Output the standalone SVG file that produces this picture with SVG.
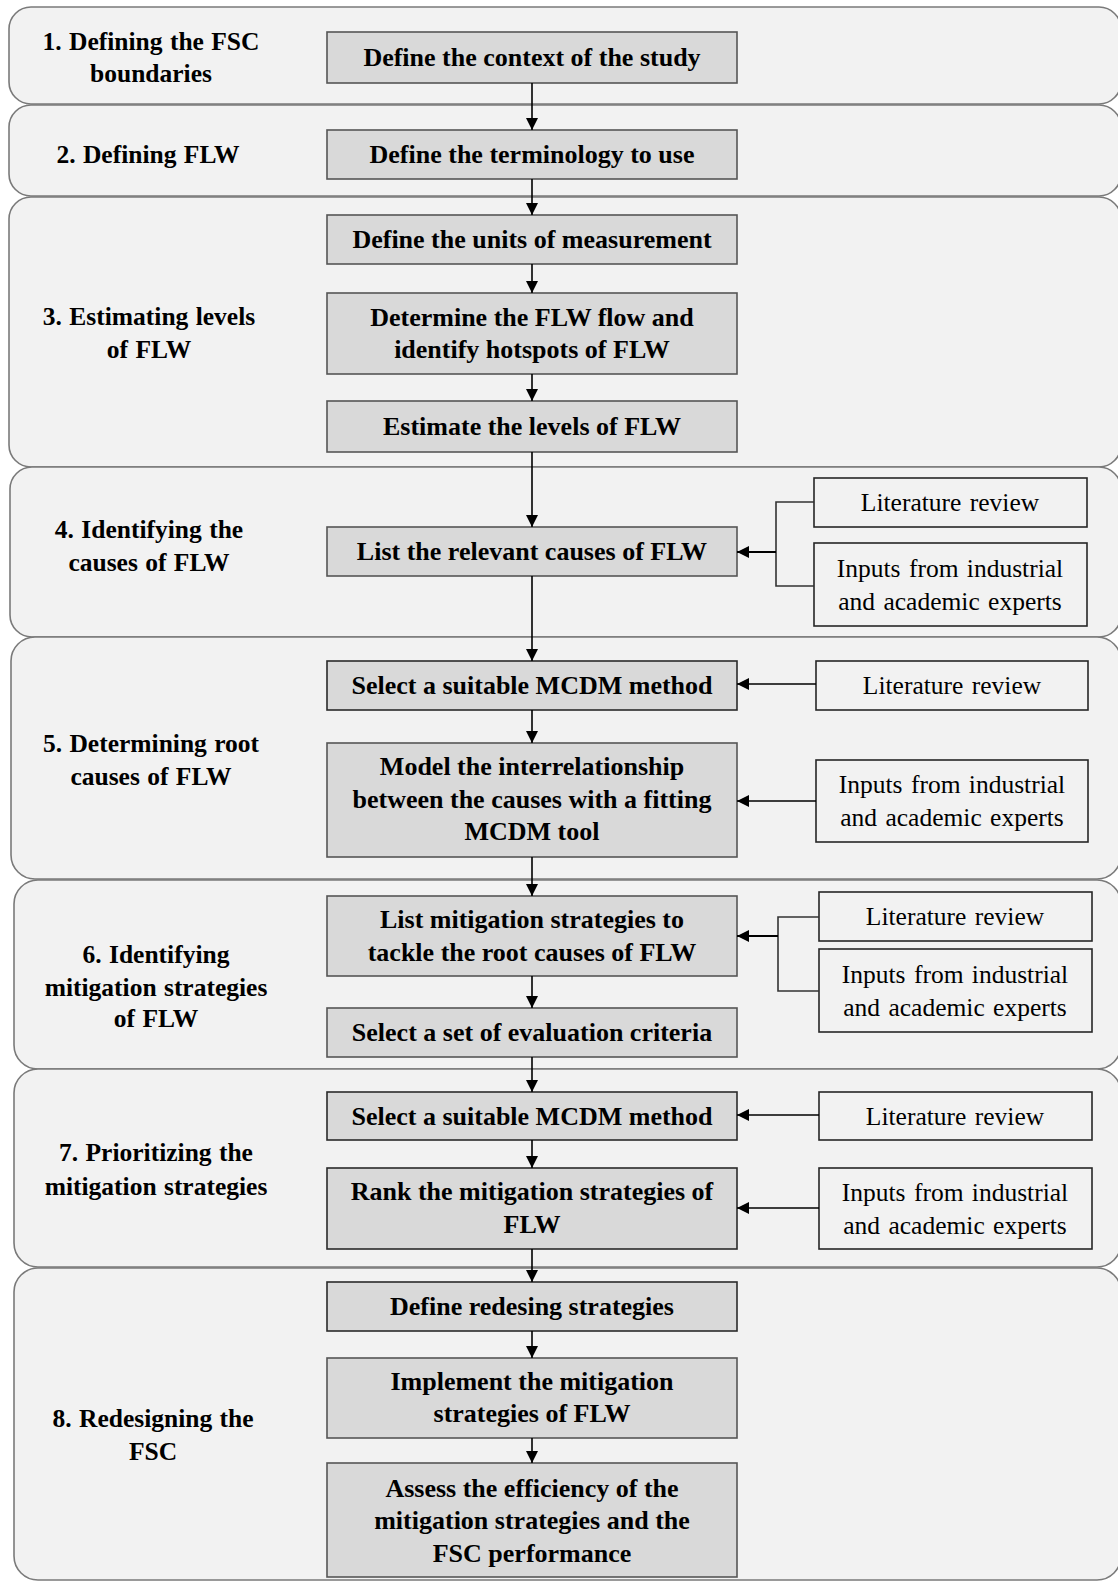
<svg xmlns="http://www.w3.org/2000/svg" width="1118" height="1582" viewBox="0 0 1118 1582">
  <defs>
    <style>
      .phase { fill: #f2f2f2; stroke: #7a7a7a; stroke-width: 1.6; }
      .step { fill: #d9d9d9; stroke: #555555; stroke-width: 1.6; }
      .src { fill: #f2f2f2; stroke: #262626; stroke-width: 1.6; }
      .plabel { font-family: "Liberation Serif", "Times New Roman", serif; font-weight: bold; font-size: 25.5px; fill: #000; text-anchor: middle; word-spacing: 1px; }
      .slabel { font-family: "Liberation Serif", "Times New Roman", serif; font-weight: bold; font-size: 26px; fill: #000; text-anchor: middle; }
      .rlabel { font-family: "Liberation Serif", "Times New Roman", serif; font-size: 25.5px; fill: #000; text-anchor: middle; word-spacing: 2px; }
      .flow { fill: none; stroke: #000; stroke-width: 1.6; marker-end: url(#head); }
      .bracket { fill: none; stroke: #333; stroke-width: 1.6; }
    </style>
    <marker id="head" viewBox="0 0 12 12" refX="12" refY="6" markerWidth="12" markerHeight="12" markerUnits="userSpaceOnUse" orient="auto">
      <path d="M0,0 L12,6 L0,12 Z" fill="#000"/>
    </marker>
  </defs>

  <rect width="1118" height="1582" fill="#ffffff"/>

  <!-- phase bands -->
  <g id="phase1">
    <rect class="phase" x="9" y="7" width="1112" height="97" rx="22"/>
    <text class="plabel" x="151" y="50">1. Defining the FSC</text>
    <text class="plabel" x="151" y="82">boundaries</text>
  </g>
  <g id="phase2">
    <rect class="phase" x="9" y="105" width="1112" height="91" rx="22"/>
    <text class="plabel" x="148" y="163">2. Defining FLW</text>
  </g>
  <g id="phase3">
    <rect class="phase" x="9" y="197" width="1112" height="270" rx="22"/>
    <text class="plabel" x="149" y="325">3. Estimating levels</text>
    <text class="plabel" x="149" y="358">of FLW</text>
  </g>
  <g id="phase4">
    <rect class="phase" x="10" y="467" width="1111" height="170" rx="22"/>
    <text class="plabel" x="149" y="538">4. Identifying the</text>
    <text class="plabel" x="149" y="571">causes of FLW</text>
  </g>
  <g id="phase5">
    <rect class="phase" x="11" y="637" width="1110" height="242" rx="24"/>
    <text class="plabel" x="151" y="752">5. Determining root</text>
    <text class="plabel" x="151" y="785">causes of FLW</text>
  </g>
  <g id="phase6">
    <rect class="phase" x="14" y="880" width="1107" height="189" rx="24"/>
    <text class="plabel" x="156" y="963">6. Identifying</text>
    <text class="plabel" x="156" y="996">mitigation strategies</text>
    <text class="plabel" x="156" y="1027">of FLW</text>
  </g>
  <g id="phase7">
    <rect class="phase" x="14" y="1069" width="1107" height="198" rx="24"/>
    <text class="plabel" x="156" y="1161">7. Prioritizing the</text>
    <text class="plabel" x="156" y="1195">mitigation strategies</text>
  </g>
  <g id="phase8">
    <rect class="phase" x="14" y="1268" width="1107" height="312" rx="24"/>
    <text class="plabel" x="153" y="1427">8. Redesigning the</text>
    <text class="plabel" x="153" y="1460">FSC</text>
  </g>

  <!-- process steps -->
  <g id="s1"><rect class="step" x="327" y="32" width="410" height="51"/>
    <text class="slabel" x="532" y="66">Define the context of the study</text></g>
  <g id="s2"><rect class="step" x="327" y="130" width="410" height="49"/>
    <text class="slabel" x="532" y="163">Define the terminology to use</text></g>
  <g id="s3"><rect class="step" x="327" y="215" width="410" height="49"/>
    <text class="slabel" x="532" y="248">Define the units of measurement</text></g>
  <g id="s4"><rect class="step" x="327" y="293" width="410" height="81"/>
    <text class="slabel" x="532" y="326">Determine the FLW flow and</text>
    <text class="slabel" x="532" y="358">identify hotspots of FLW</text></g>
  <g id="s5"><rect class="step" x="327" y="401" width="410" height="51"/>
    <text class="slabel" x="532" y="435">Estimate the levels of FLW</text></g>
  <g id="s6"><rect class="step" x="327" y="527" width="410" height="49"/>
    <text class="slabel" x="532" y="560">List the relevant causes of FLW</text></g>
  <g id="s7"><rect class="step" x="327" y="661" width="410" height="49" style="stroke:#2a2a2a"/>
    <text class="slabel" x="532" y="694">Select a suitable MCDM method</text></g>
  <g id="s8"><rect class="step" x="327" y="743" width="410" height="114"/>
    <text class="slabel" x="532" y="775">Model the interrelationship</text>
    <text class="slabel" x="532" y="808">between the causes with a fitting</text>
    <text class="slabel" x="532" y="840">MCDM tool</text></g>
  <g id="s9"><rect class="step" x="327" y="896" width="410" height="80"/>
    <text class="slabel" x="532" y="928">List mitigation strategies to</text>
    <text class="slabel" x="532" y="961">tackle the root causes of FLW</text></g>
  <g id="s10"><rect class="step" x="327" y="1008" width="410" height="49"/>
    <text class="slabel" x="532" y="1041">Select a set of evaluation criteria</text></g>
  <g id="s11"><rect class="step" x="327" y="1092" width="410" height="48" style="stroke:#2a2a2a"/>
    <text class="slabel" x="532" y="1125">Select a suitable MCDM method</text></g>
  <g id="s12"><rect class="step" x="327" y="1168" width="410" height="81" style="stroke:#2a2a2a"/>
    <text class="slabel" x="532" y="1200">Rank the mitigation strategies of</text>
    <text class="slabel" x="532" y="1233">FLW</text></g>
  <g id="s13"><rect class="step" x="327" y="1282" width="410" height="49" style="stroke:#2a2a2a"/>
    <text class="slabel" x="532" y="1315">Define redesing strategies</text></g>
  <g id="s14"><rect class="step" x="327" y="1358" width="410" height="80"/>
    <text class="slabel" x="532" y="1390">Implement the mitigation</text>
    <text class="slabel" x="532" y="1422">strategies of FLW</text></g>
  <g id="s15"><rect class="step" x="327" y="1463" width="410" height="114"/>
    <text class="slabel" x="532" y="1497">Assess the efficiency of the</text>
    <text class="slabel" x="532" y="1529">mitigation strategies and the</text>
    <text class="slabel" x="532" y="1562">FSC performance</text></g>

  <!-- input sources -->
  <g id="r4a"><rect class="src" x="814" y="478" width="273" height="49"/>
    <text class="rlabel" x="950" y="511">Literature review</text></g>
  <g id="r4b"><rect class="src" x="814" y="543" width="273" height="83"/>
    <text class="rlabel" x="950" y="577">Inputs from industrial</text>
    <text class="rlabel" x="950" y="610">and academic experts</text></g>
  <g id="r5a"><rect class="src" x="816" y="661" width="272" height="49"/>
    <text class="rlabel" x="952" y="694">Literature review</text></g>
  <g id="r5b"><rect class="src" x="816" y="760" width="272" height="82"/>
    <text class="rlabel" x="952" y="793">Inputs from industrial</text>
    <text class="rlabel" x="952" y="826">and academic experts</text></g>
  <g id="r6a"><rect class="src" x="819" y="892" width="273" height="49"/>
    <text class="rlabel" x="955" y="925">Literature review</text></g>
  <g id="r6b"><rect class="src" x="819" y="949" width="273" height="83"/>
    <text class="rlabel" x="955" y="983">Inputs from industrial</text>
    <text class="rlabel" x="955" y="1016">and academic experts</text></g>
  <g id="r7a"><rect class="src" x="819" y="1092" width="273" height="48"/>
    <text class="rlabel" x="955" y="1125">Literature review</text></g>
  <g id="r7b"><rect class="src" x="819" y="1168" width="273" height="81"/>
    <text class="rlabel" x="955" y="1201">Inputs from industrial</text>
    <text class="rlabel" x="955" y="1234">and academic experts</text></g>

  <!-- connectors -->
  <g id="connectors">
    <line class="flow" x1="532" y1="83" x2="532" y2="130"/>
    <line class="flow" x1="532" y1="179" x2="532" y2="215"/>
    <line class="flow" x1="532" y1="264" x2="532" y2="293"/>
    <line class="flow" x1="532" y1="374" x2="532" y2="401"/>
    <line class="flow" x1="532" y1="452" x2="532" y2="527"/>
    <line class="flow" x1="532" y1="576" x2="532" y2="661"/>
    <line class="flow" x1="532" y1="710" x2="532" y2="743"/>
    <line class="flow" x1="532" y1="857" x2="532" y2="896"/>
    <line class="flow" x1="532" y1="976" x2="532" y2="1008"/>
    <line class="flow" x1="532" y1="1057" x2="532" y2="1092"/>
    <line class="flow" x1="532" y1="1140" x2="532" y2="1168"/>
    <line class="flow" x1="532" y1="1249" x2="532" y2="1282"/>
    <line class="flow" x1="532" y1="1331" x2="532" y2="1358"/>
    <line class="flow" x1="532" y1="1438" x2="532" y2="1463"/>

    <path class="bracket" d="M814,502 H776 V586 H814"/>
    <line class="flow" x1="776" y1="552" x2="737" y2="552" style="stroke-width:2"/>

    <line class="flow" x1="816" y1="684" x2="737" y2="684"/>
    <line class="flow" x1="816" y1="801" x2="737" y2="801"/>

    <path class="bracket" d="M819,917 H778 V991 H819"/>
    <line class="flow" x1="778" y1="936" x2="737" y2="936" style="stroke-width:2"/>

    <line class="flow" x1="819" y1="1115" x2="737" y2="1115"/>
    <line class="flow" x1="819" y1="1208" x2="737" y2="1208"/>
  </g>
</svg>
